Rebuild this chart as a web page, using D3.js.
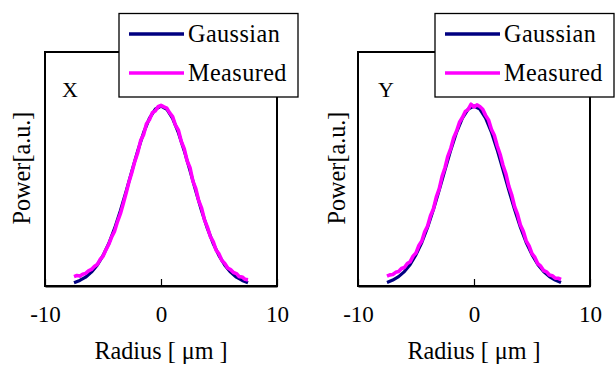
<!DOCTYPE html>
<html><head><meta charset="utf-8">
<script src="https://cdn.jsdelivr.net/npm/d3@7"></script>
<style>
html,body{margin:0;padding:0;background:#fff;}
</style></head>
<body><svg id="c" width="616" height="365" font-family="Liberation Serif"></svg>
<script>
const FONT = "Liberation Serif";
// ---- data ----
const xTicks = [-10, 0, 10];
const tickLabels = ["-10", "0", "10"];
const seriesNames = ["Gaussian", "Measured"];
const panelNames = ["X", "Y"];

const gaussRadius = [-7.5,-7,-6.5,-6,-5.5,-5,-4.5,-4,-3.5,-3,-2.5,-2,-1.5,-1,-0.5,0,
  0.5,1,1.5,2,2.5,3,3.5,4,4.5,5,5.5,6,6.5,7,7.5];
const gaussXPower = [0.018,0.031,0.049,0.077,0.116,0.169,0.236,0.320,0.418,0.527,0.641,0.752,0.852,0.931,0.982,1.000,
  0.982,0.931,0.852,0.752,0.641,0.527,0.418,0.320,0.236,0.169,0.116,0.077,0.049,0.031,0.018];
const gaussYPower = [0.020,0.033,0.052,0.080,0.120,0.174,0.242,0.327,0.425,0.533,0.646,0.756,0.855,0.933,0.983,1.000,
  0.983,0.933,0.855,0.756,0.646,0.533,0.425,0.327,0.242,0.174,0.120,0.080,0.052,0.033,0.020];

const measRadius = [-7.5,-7.25,-7,-6.75,-6.5,-6.25,-6,-5.75,-5.5,-5.25,-5,-4.75,-4.5,-4.25,-4,-3.75,
  -3.5,-3.25,-3,-2.75,-2.5,-2.25,-2,-1.75,-1.5,-1.25,-1,-0.75,-0.5,-0.25,0,
  0.25,0.5,0.75,1,1.25,1.5,1.75,2,2.25,2.5,2.75,3,3.25,3.5,3.75,4,4.25,4.5,4.75,5,
  5.25,5.5,5.75,6,6.25,6.5,6.75,7,7.25,7.5];
const measXPower = [0.052,0.058,0.055,0.065,0.070,0.084,0.092,0.108,0.119,0.147,0.165,0.201,0.232,0.273,0.305,0.358,
  0.402,0.458,0.518,0.581,0.634,0.694,0.742,0.809,0.841,0.901,0.924,0.962,0.972,0.996,1.004,
  0.995,0.988,0.962,0.941,0.893,0.866,0.803,0.763,0.696,0.657,0.583,0.541,0.474,0.433,0.367,0.327,
  0.276,0.247,0.199,0.178,0.142,0.125,0.100,0.091,0.075,0.069,0.052,0.050,0.037,0.034];
const measYPower = [0.055,0.062,0.064,0.076,0.080,0.097,0.103,0.125,0.135,0.166,0.184,0.225,0.250,0.301,0.333,0.390,
  0.428,0.494,0.540,0.609,0.657,0.722,0.765,0.824,0.861,0.910,0.936,0.970,0.981,1.010,0.994,
  1.006,0.997,0.982,0.948,0.923,0.871,0.837,0.779,0.732,0.671,0.623,0.555,0.507,0.441,0.399,0.339,
  0.304,0.251,0.223,0.180,0.159,0.124,0.110,0.086,0.079,0.061,0.057,0.044,0.043,0.036];

const colors = {Gaussian: "#000080", Measured: "#ff00ff"};

// ---- drawing ----
const svg = d3.select("#c");

function drawPanel(o) {
  const g = svg.append("g").attr("transform", `translate(${o.dx},0)`).attr("font-family", FONT);
  const plot = {l: 45, r: 277, t: 52, b: 286};
  const x = d3.scaleLinear().domain([-10, 10]).range([plot.l, plot.r]);
  const y = d3.scaleLinear().domain([0, 1.3]).range([plot.b, plot.t]);

  g.append("rect").attr("x", plot.l).attr("y", plot.t)
    .attr("width", plot.r - plot.l).attr("height", plot.b - plot.t)
    .attr("fill", "none").attr("stroke", "#000").attr("stroke-width", 2);

  const axis = d3.axisBottom(x).tickValues(xTicks)
    .tickFormat((d, i) => tickLabels[i]).tickSizeInner(-7).tickSizeOuter(0).tickPadding(19);
  const ax = g.append("g").attr("transform", `translate(0,${plot.b})`).call(axis)
    .attr("font-family", FONT).attr("font-size", 22);
  ax.select(".domain").attr("stroke", "#000").attr("stroke-width", 2);
  ax.selectAll(".tick line").attr("stroke", "#000").attr("stroke-width", 1.2);
  ax.selectAll(".tick text").attr("dy", "0.71em").attr("fill", "#000")
    .attr("transform", "scale(1.05)");

  const line = d3.line().x(d => x(d[0])).y(d => y(d[1]));
  const gData = o.gaussPower.map((v, i) => [gaussRadius[i], v]);
  const mData = o.measPower.map((v, i) => [measRadius[i], v]);
  g.append("path").datum(gData).attr("d", line).attr("fill", "none")
    .attr("stroke", colors.Gaussian).attr("stroke-width", 3.2).attr("stroke-linejoin", "round");
  g.append("path").datum(mData).attr("d", line).attr("fill", "none")
    .attr("stroke", colors.Measured).attr("stroke-width", 3.6).attr("stroke-linejoin", "round");

  g.append("text").attr("x", o.letterX).attr("y", 97).attr("font-size", 22).text(o.name);

  g.append("text").attr("transform", "translate(161,359) scale(1.1)").attr("text-anchor", "middle")
    .attr("font-size", 22).text("Radius [ μm ]");
  g.append("text").attr("transform", `translate(${o.ylabX},168) rotate(-90) scale(1.1)`)
    .attr("text-anchor", "middle").attr("font-size", 22).text("Power[a.u.]");

  const lg = g.append("g").attr("transform", `translate(${o.legDx},0)`);
  lg.append("rect").attr("x", 119).attr("y", 13.5).attr("width", 179).attr("height", 83.5)
    .attr("fill", "#fff").attr("stroke", "#000").attr("stroke-width", 1.3);
  seriesNames.forEach((n, i) => {
    const yy = i === 0 ? 34 : 73;
    lg.append("line").attr("x1", 129).attr("x2", 184).attr("y1", yy).attr("y2", yy)
      .attr("stroke", colors[n]).attr("stroke-width", 3.5);
    lg.append("text").attr("transform", `translate(188,${yy + 8}) scale(1.1)`)
      .attr("font-size", 22).attr("letter-spacing", 0.4).text(n);
  });
}

drawPanel({dx: 0, legDx: 0, name: panelNames[0], letterX: 62, ylabX: 30,
  gaussPower: gaussXPower, measPower: measXPower});
drawPanel({dx: 313, legDx: 3, name: panelNames[1], letterX: 65, ylabX: 32,
  gaussPower: gaussYPower, measPower: measYPower});
</script></body></html>
